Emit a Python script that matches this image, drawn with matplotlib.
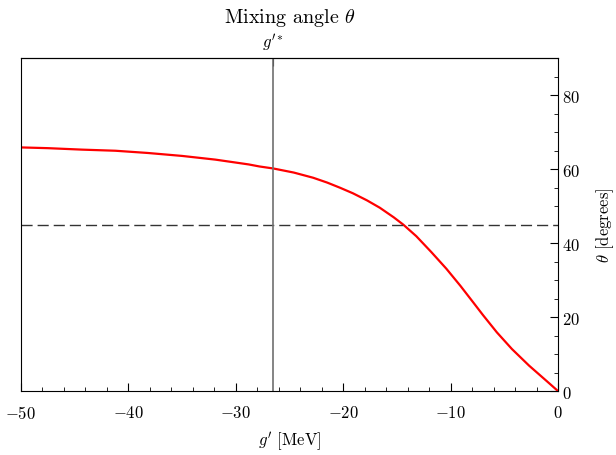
import numpy as np
import matplotlib
matplotlib.use("Agg")
import matplotlib.pyplot as plt
from matplotlib.ticker import MultipleLocator

plt.rcParams['font.family'] = 'serif'
plt.rcParams['font.serif'] = ['cmr10', 'DejaVu Serif']
plt.rcParams['mathtext.fontset'] = 'cm'
plt.rcParams['axes.formatter.use_mathtext'] = True
plt.rcParams['axes.unicode_minus'] = True

# data
g_prime = [-50.0, -47.5, -44.3, -41.2, -38.2, -35.0, -31.9, -28.8, -27.8, -26.5,
           -24.6, -22.8, -21.5, -20.3, -19.1, -17.8, -16.6, -15.3, -14.4, -13.2,
           -11.8, -10.4, -9.1, -7.9, -7.0, -5.7, -4.3, -2.7, -1.05, 0.0]
theta = [65.9, 65.7, 65.3, 65.0, 64.4, 63.6, 62.6, 61.3, 60.75, 60.2,
         59.1, 57.7, 56.4, 55.0, 53.5, 51.6, 49.6, 47.0, 45.0, 41.9,
         37.6, 33.1, 28.5, 24.0, 20.6, 15.9, 11.4, 6.9, 2.7, 0.0]
g_star = -26.55
theta_ref = 45.0
x_ticks = [-50, -40, -30, -20, -10, 0]
y_ticks = [0, 20, 40, 60, 80]

fig = plt.figure(figsize=(6.16, 4.56), dpi=100)
ax = fig.add_axes([0.034, 0.140, 0.872, 0.730])

ax.plot(g_prime, theta, color='red', lw=1.6, solid_joinstyle='round')
ax.axhline(theta_ref, color='#333333', lw=1.0, dashes=(8, 3.6))
ax.axvline(g_star, color='#707070', lw=1.2)

ax.set_xlim(-50, 0)
ax.set_ylim(0, 90)
ax.set_xticks(x_ticks)
ax.xaxis.set_minor_locator(MultipleLocator(2))
ax.set_yticks(y_ticks)
ax.yaxis.set_minor_locator(MultipleLocator(5))
ax.yaxis.tick_right()
ax.yaxis.set_label_position('right')
ax.tick_params(axis='both', which='major', direction='in', length=6, labelsize=12)
ax.tick_params(axis='both', which='minor', direction='in', length=3)
ax.tick_params(axis='x', which='both', top=False, pad=9)
ax.tick_params(axis='y', which='both', left=False, right=True, pad=3)

ax.set_xlabel(r"$g^{\prime}$ [MeV]", fontsize=12, labelpad=7)
ax.set_ylabel(r"$\theta$ [degrees]", fontsize=12, labelpad=10)

top = ax.secondary_xaxis('top')
top.set_xticks([g_star])
top.set_xticklabels([r"$g^{\prime *}$"])
top.tick_params(direction='in', length=6, labelsize=12, pad=4)

ax.set_title(r"Mixing angle $\theta$", fontsize=14.5, pad=26)

fig.savefig("out.png", dpi=100)
